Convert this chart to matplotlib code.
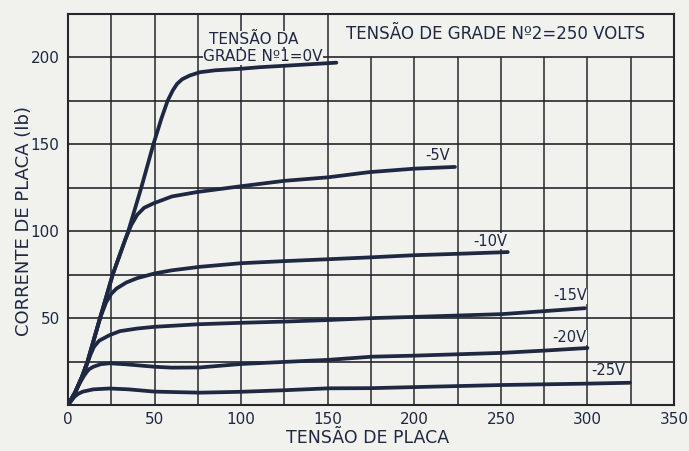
#!/usr/bin/env python3

import matplotlib
matplotlib.use("Agg")
import matplotlib.pyplot as plt
import numpy as np

# Plate characteristic curves: plate voltage (V) vs plate current (Ib)
v_g0 = [0, 4, 8, 11.3, 18.5, 25.8, 34.8, 42.3, 49.3, 54, 57.5, 60.5, 63, 66,
        70.3, 76.2, 85, 100, 110.9, 130, 155]
ib_g0 = [0, 7, 16, 25, 50, 75, 100, 125, 150, 165, 175, 181, 184.8, 187.5,
         189.6, 191.5, 192.6, 193.5, 194.4, 195.5, 197]

v_g5 = [0, 4, 8, 11.3, 18.5, 25.8, 33, 36.5, 40, 44, 49.3, 60, 74.8, 100,
        125, 150, 174, 200, 223.5]
ib_g5 = [0, 7, 16, 25, 50, 75, 95, 103.5, 109.5, 113.5, 116, 120, 122.6,
         125.9, 129, 131, 134, 136, 137]

v_g10 = [0, 4, 8, 11.3, 18.5, 22, 25, 28, 33.7, 40, 50, 60, 76, 100, 125,
         150.7, 175.5, 200, 225, 254]
ib_g10 = [0, 7, 16, 25, 50, 59, 64, 67, 70.5, 73, 75.7, 77.5, 79.5, 81.6,
          82.8, 83.9, 85, 86.2, 87, 88]

v_g15 = [0, 4, 8, 11, 13, 15, 18, 24, 30, 40, 50, 76, 100, 125, 150.7,
         175.5, 200, 250.6, 275, 298.5]
ib_g15 = [0, 7, 16, 23.5, 29, 33.5, 37, 40.2, 42.5, 44, 45, 46.5, 47.3, 48,
          48.9, 50, 50.7, 52.3, 54, 55.7]

v_g20 = [0, 4, 7, 9.5, 12, 14.6, 19, 24, 33.7, 50, 60, 76, 100, 125, 150.7,
         175.5, 200, 250.6, 275, 300]
ib_g20 = [0, 7, 13, 17.2, 20.5, 22, 23.5, 24, 23.4, 22, 21.5, 21.6, 23.6,
          24.8, 26, 27.8, 28.4, 30, 31.3, 32.8]

v_g25 = [0, 2, 3.8, 6, 8.6, 14.6, 24, 35, 50, 76, 100, 125, 150.7, 175.5,
         200, 250.6, 300, 324.5]
ib_g25 = [0, 2.5, 4.8, 6.5, 7.7, 9, 9.5, 9, 7.7, 7.1, 7.6, 8.5, 9.6, 9.7,
          10.3, 11.5, 12.3, 12.8]

curve_labels = ["-5V", "-10V", "-15V", "-20V", "-25V"]
label_pos = [(213.6, 139), (243.6, 90), (289.8, 58.6), (289.8, 34.5), (311.8, 15.5)]

x_ticks = [0, 50, 100, 150, 200, 250, 300, 350]
y_ticks = [50, 100, 150, 200]

paper = "#f1f1ee"
ink = "#1f2842"
grid_ink = "#26272c"

fig = plt.figure(figsize=(6.89, 4.51), dpi=100)
fig.patch.set_facecolor(paper)
ax = fig.add_axes([68 / 689, 46 / 451, 606 / 689, 391 / 451])
ax.set_facecolor(paper)
ax.set_xlim(0, 350)
ax.set_ylim(0, 225)

# grid every 25 units; the top-right strip is left open for the caption
for gx in np.arange(25, 350, 25):
    top = 225 if gx <= 150 else 200
    ax.vlines(gx, 0, top, color=grid_ink, lw=1.1, zorder=1)
for gy in np.arange(25, 225, 25):
    ax.hlines(gy, 0, 350, color=grid_ink, lw=1.2, zorder=1)

for s in ax.spines.values():
    s.set_color(grid_ink)
    s.set_linewidth(1.5)

# curves go on top of the label backgrounds
curves = [(v_g0, ib_g0), (v_g5, ib_g5), (v_g10, ib_g10),
          (v_g15, ib_g15), (v_g20, ib_g20), (v_g25, ib_g25)]
for v, ib in curves:
    ax.plot(v, ib, color=ink, lw=2.7, solid_capstyle="round",
            solid_joinstyle="round", zorder=5)

for txt, (lx, ly) in zip(curve_labels, label_pos):
    ax.text(lx, ly, txt, fontsize=10.5, color=ink, ha="center", va="bottom",
            zorder=4, bbox=dict(facecolor=paper, edgecolor="none", pad=0.3))

# 0 V grid label, sitting just above its curve
ax.text(107, 208, "TENSÃO DA", fontsize=11, color=ink, ha="center",
        va="baseline", zorder=4,
        bbox=dict(facecolor=paper, edgecolor="none", pad=0.3))
ax.text(112.5, 197.8, "GRADE Nº1=0V", fontsize=11, color=ink, ha="center",
        va="baseline", zorder=4,
        bbox=dict(facecolor=paper, edgecolor="none", pad=0.3))
ax.text(247, 213.5, "TENSÃO DE GRADE Nº2=250 VOLTS", fontsize=12,
        color=ink, ha="center", va="center", zorder=4)

ax.set_xticks(x_ticks)
ax.set_yticks(y_ticks)
ax.tick_params(length=0, labelsize=11, labelcolor=ink)
ax.tick_params(axis="x", pad=5)
ax.tick_params(axis="y", pad=6)

ax.set_xlabel("TENSÃO DE PLACA", fontsize=12.5, color=ink)
ax.xaxis.set_label_coords(0.495, -0.062)
ax.set_ylabel("CORRENTE DE PLACA (Ib)", fontsize=13, color=ink)
ax.yaxis.set_label_coords(-0.058, 0.47)

fig.savefig("out.png", dpi=100, facecolor=paper)
